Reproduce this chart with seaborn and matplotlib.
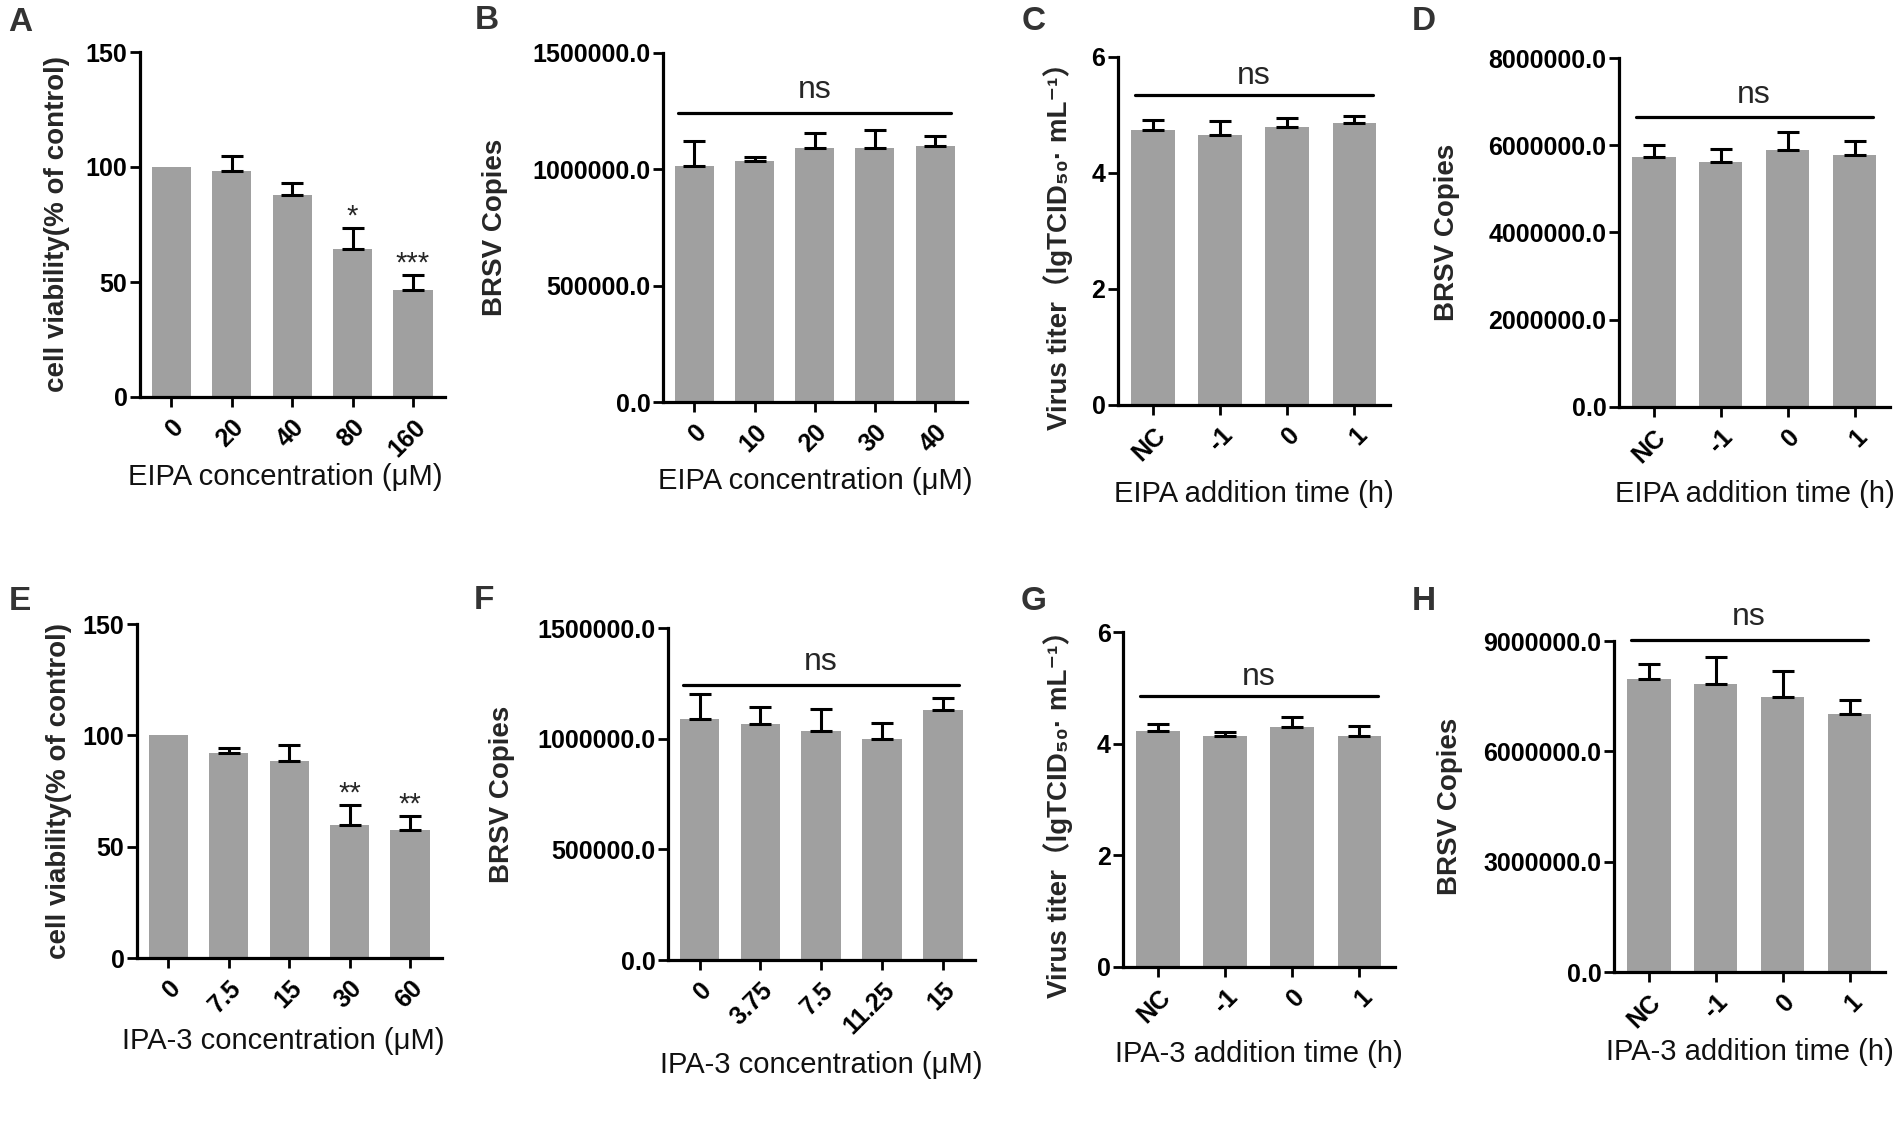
import numpy as np
import matplotlib
matplotlib.use("Agg")
import matplotlib.pyplot as plt
from matplotlib.ticker import FuncFormatter
import seaborn as sns

# --- values ---
# A: cell viability, EIPA
a_conc = ["0", "20", "40", "80", "160"]
a_mean = [100, 98.1, 87.7, 64.2, 46.4]
a_err = [0, 6.7, 5.2, 9.3, 6.8]
a_sig = ["", "", "", "*", "***"]

# B: BRSV copies, EIPA
b_conc = ["0", "10", "20", "30", "40"]
b_mean = [1014800, 1036300, 1090900, 1090900, 1102300]
b_err = [109000, 16000, 65000, 79000, 39000]

# C / D: addition time, EIPA
time_labels = ["NC", "-1", "0", "1"]
c_mean = [4.75, 4.66, 4.79, 4.87]
c_err = [0.16, 0.235, 0.155, 0.115]
d_mean = [5737000, 5615000, 5882000, 5768000]
d_err = [275000, 298000, 413000, 321000]

# E: cell viability, IPA-3
e_conc = ["0", "7.5", "15", "30", "60"]
e_mean = [100, 92.1, 88.3, 59.9, 57.6]
e_err = [0, 2.1, 7.3, 8.7, 6.3]
e_sig = ["", "", "", "**", "**"]

# F: BRSV copies, IPA-3
f_conc = ["0", "3.75", "7.5", "11.25", "15"]
f_mean = [1088500, 1066000, 1035700, 999500, 1130700]
f_err = [113000, 77000, 98000, 71000, 53000]

# G / H: addition time, IPA-3
g_mean = [4.22, 4.13, 4.30, 4.13]
g_err = [0.137, 0.078, 0.179, 0.179]
h_mean = [7978000, 7842000, 7480000, 7028000]
h_err = [389000, 724000, 696000, 362000]

viab_ticks = [0, 50, 100, 150]
copy_ticks = [0, 500000, 1000000, 1500000]
titer_ticks = [0, 2, 4, 6]
d_ticks = [0, 2000000, 4000000, 6000000, 8000000]
h_ticks = [0, 3000000, 6000000, 9000000]

viab_label = "cell viability(% of control)"
copy_label = "BRSV Copies"
titer_label = "Virus titer（lgTCID₅₀· mL⁻¹）"

sns.set_style("ticks")
plt.rcParams["font.family"] = ["Liberation Sans", "DejaVu Sans", "Noto Sans CJK SC"]
plt.rcParams["font.weight"] = "bold"
plt.rcParams["axes.labelweight"] = "bold"

W, H = 1902, 1123
fig = plt.figure(figsize=(W / 100, H / 100), dpi=100)
BAR = "#a0a0a0"


def panel(box, labels, means, errs, yticks, fmt, ylabel, xlabel,
          ylab_right, xlab_x, xlab_top, ylab_y=0.5, sig=None, ns=None):
    x0, y0, x1, y1 = box
    ax = fig.add_axes([x0 / W, 1 - y1 / H, (x1 - x0) / W, (y1 - y0) / H])
    sns.barplot(x=labels, y=means, order=labels, color=BAR, saturation=1,
                width=0.65, errorbar=None, linewidth=0, ax=ax)
    # upper error bars only (GraphPad style), skip zero-SD controls
    idx = [i for i, e in enumerate(errs) if e > 0]
    ax.errorbar(idx, [means[i] for i in idx],
                yerr=[[0] * len(idx), [errs[i] for i in idx]],
                fmt="none", ecolor="black", elinewidth=2.2, capsize=8,
                capthick=2.2, zorder=3)
    n = len(labels)
    ax.set_xlim(-0.52, n - 0.47)
    ax.set_ylim(0, yticks[-1])
    ax.set_yticks(yticks)
    ax.yaxis.set_major_formatter(FuncFormatter(lambda v, p: fmt.format(v)))
    ax.set_xticks(range(n))
    ax.set_xticklabels(labels, rotation=45, ha="right", rotation_mode="anchor")
    ax.tick_params(axis="both", direction="out", length=7, width=2,
                   labelsize=18, colors="black")
    ax.tick_params(axis="y", pad=2)
    ax.tick_params(axis="x", pad=6)
    sns.despine(ax=ax)
    for s in ["left", "bottom"]:
        ax.spines[s].set_linewidth(2.3)
        ax.spines[s].set_color("black")

    ax.set_ylabel(ylabel, fontsize=20)
    ax.yaxis.set_label_coords(-(x0 - ylab_right) / (x1 - x0), ylab_y)
    ax.set_xlabel(xlabel, fontsize=21, fontweight="normal", color="#111111")
    ax.xaxis.set_label_coords(xlab_x, -(xlab_top - y1) / (y1 - y0))

    if sig:
        for i, s in enumerate(sig):
            if s:
                ax.annotate(s, (i, means[i] + errs[i]), xytext=(0, -2),
                            textcoords="offset points", ha="center",
                            va="bottom", fontsize=21, fontweight="normal")
    if ns:
        line_y, text_y = ns
        ax.plot([-0.27, n - 0.73], [line_y, line_y], color="black",
                lw=2.3, clip_on=False)
        ax.text((n - 1) / 2, text_y, "ns", ha="center", va="baseline",
                fontsize=23, fontweight="normal", clip_on=False)
    return ax


panel((140, 52, 445, 397), a_conc, a_mean, a_err, viab_ticks, "{:.0f}",
      viab_label, "EIPA concentration (μM)", 70, 0.475, 463, sig=a_sig)
panel((663, 53, 967, 402), b_conc, b_mean, b_err, copy_ticks, "{:.1f}",
      copy_label, "EIPA concentration (μM)", 508, 0.5, 467,
      ns=(1241600, 1306000))
panel((1118, 57, 1390, 405), time_labels, c_mean, c_err, titer_ticks, "{:.0f}",
      titer_label, "EIPA addition time (h)", 1073, 0.5, 480, ylab_y=0.475,
      ns=(5.34, 5.54))
panel((1619, 58, 1890, 407), time_labels, d_mean, d_err, d_ticks, "{:.1f}",
      copy_label, "EIPA addition time (h)", 1460, 0.5, 480,
      ns=(6646000, 6967000))
panel((137, 624, 442, 958), e_conc, e_mean, e_err, viab_ticks, "{:.0f}",
      viab_label, "IPA-3 concentration (μM)", 72, 0.48, 1027, sig=e_sig)
panel((668, 628, 975, 960), f_conc, f_mean, f_err, copy_ticks, "{:.1f}",
      copy_label, "IPA-3 concentration (μM)", 515, 0.5, 1051,
      ns=(1243700, 1311600))
panel((1123, 632, 1395, 967), time_labels, g_mean, g_err, titer_ticks, "{:.0f}",
      titer_label, "IPA-3 addition time (h)", 1073, 0.5, 1040, ylab_y=0.475,
      ns=(4.853, 5.045))
panel((1614, 641, 1885, 972), time_labels, h_mean, h_err, h_ticks, "{:.1f}",
      copy_label, "IPA-3 addition time (h)", 1463, 0.5, 1038,
      ns=(9018000, 9425000))

# panel letters
for letter, (lx, ly) in {"A": (8, 13), "B": (475, 11), "C": (1022, 12),
                         "D": (1412, 12), "E": (9, 592), "F": (474, 591),
                         "G": (1021, 592), "H": (1412, 592)}.items():
    fig.text(lx / W, 1 - (ly - 6) / H, letter, ha="left", va="top",
             fontsize=24, fontweight="bold", color="#333333")

fig.savefig("out.png", dpi=100)
